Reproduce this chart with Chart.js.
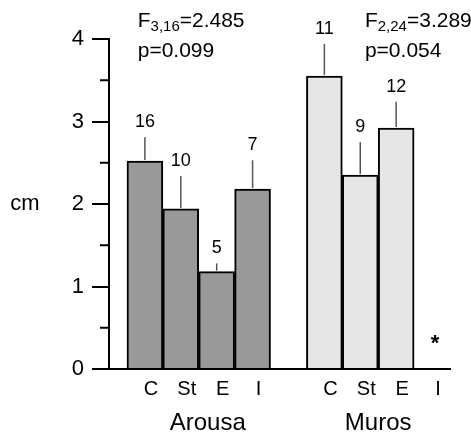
<!DOCTYPE html>
<html>
<head>
<meta charset="utf-8">
<script src="https://cdn.jsdelivr.net/npm/chart.js@4/dist/chart.umd.min.js"></script>
<style>
  body { margin: 0; background: #fff; }
  #wrap { width: 471px; height: 437px; position: relative; }
</style>
</head>
<body>
<div id="wrap"><canvas id="barChart"></canvas></div>
<script>
var categories = ['C', 'St', 'E', 'I'];
var sites = ['Arousa', 'Muros'];
var arousaMeans = [2.52, 1.94, 1.18, 2.18];
var arousaErr = [0.29, 0.40, 0.10, 0.35];
var arousaN = [16, 10, 5, 7];
var murosMeans = [3.55, 2.35, 2.92, null];
var murosErr = [0.39, 0.40, 0.32, null];
var murosN = [11, 9, 12, null];
var yTicks = [0, 1, 2, 3, 4];
var fDf = ['3,16', '2,24'];
var fValue = ['2.485', '3.289'];
var pValue = ['0.099', '0.054'];

var FONT = '"Liberation Sans", Arial, sans-serif';

// group g, category i -> position on x axis (one empty slot between groups)
function xPos(g, i) { return g * 5 + i; }

function points(g, means) {
    return means.map(function (m, i) { return { x: xPos(g, i), y: m }; });
}

var tickPositions = [];
var tickLabels = [];
sites.forEach(function (s, g) {
    categories.forEach(function (c, i) {
        tickPositions.push(xPos(g, i));
        tickLabels.push(c);
    });
});

var extras = {
    id: 'extras',
    afterDatasetsDraw: function (chart) {
        var ctx = chart.ctx;
        var xs = chart.scales.x, ys = chart.scales.y;
        var area = chart.chartArea;
        ctx.save();

        // error bars + sample sizes
        var groups = [[arousaMeans, arousaErr, arousaN], [murosMeans, murosErr, murosN]];
        groups.forEach(function (grp, g) {
            grp[0].forEach(function (m, i) {
                if (m === null) return;
                var px = xs.getPixelForValue(xPos(g, i));
                var top = ys.getPixelForValue(m + grp[1][i]);
                ctx.strokeStyle = '#555';
                ctx.lineWidth = 1.5;
                ctx.beginPath();
                ctx.moveTo(px, ys.getPixelForValue(m) - 1);
                ctx.lineTo(px, top);
                ctx.stroke();
                ctx.fillStyle = '#000';
                ctx.font = '18px ' + FONT;
                ctx.textAlign = 'center';
                ctx.textBaseline = 'middle';
                ctx.fillText(String(grp[2][i]), px, top - 15);
            });
        });

        // missing bar marker
        ctx.font = 'bold 22px ' + FONT;
        ctx.textAlign = 'center';
        ctx.textBaseline = 'alphabetic';
        ctx.fillText('*', xs.getPixelForValue(xPos(1, 3)) + 3, ys.getPixelForValue(0.23));

        // minor ticks
        ctx.strokeStyle = '#000';
        ctx.lineWidth = 2;
        for (var v = 0.5; v < 4; v += 1) {
            var py = ys.getPixelForValue(v);
            ctx.beginPath();
            ctx.moveTo(area.left - 9, py);
            ctx.lineTo(area.left, py);
            ctx.stroke();
        }

        // y title, horizontal
        ctx.font = '22px ' + FONT;
        ctx.textAlign = 'center';
        ctx.textBaseline = 'middle';
        ctx.fillText('cm', 25, ys.getPixelForValue(2));

        // site names
        ctx.font = '24px ' + FONT;
        ctx.fillText(sites[0], xs.getPixelForValue(1.75), 423);
        ctx.fillText(sites[1], xs.getPixelForValue(6.5), 423);

        // F statistics
        [-0.2, 6.13].forEach(function (xv, g) {
            var x0 = xs.getPixelForValue(xv);
            ctx.textAlign = 'left';
            ctx.textBaseline = 'alphabetic';
            ctx.font = '21px ' + FONT;
            ctx.fillText('F', x0, 27);
            var w = ctx.measureText('F').width;
            ctx.font = '15px ' + FONT;
            ctx.fillText(fDf[g], x0 + w, 31);
            w += ctx.measureText(fDf[g]).width;
            ctx.font = '21px ' + FONT;
            ctx.fillText('=' + fValue[g], x0 + w, 27);
            ctx.fillText('p=' + pValue[g], x0, 57);
        });
        ctx.restore();
    }
};

var ctx = document.getElementById('barChart').getContext('2d');
var myBarChart = new Chart(ctx, {
    type: 'bar',
    data: {
        datasets: [{
            label: sites[0],
            data: points(0, arousaMeans),
            backgroundColor: '#999999',
            borderColor: '#000',
            borderWidth: 2,
            grouped: false,
            barPercentage: 1,
            categoryPercentage: 1
        }, {
            label: sites[1],
            data: points(1, murosMeans),
            backgroundColor: '#e6e6e6',
            borderColor: '#000',
            borderWidth: 2,
            grouped: false,
            barPercentage: 1,
            categoryPercentage: 1
        }]
    },
    options: {
        responsive: true,
        maintainAspectRatio: false,
        animation: false,
        layout: { padding: { top: 39, right: 21, left: 0, bottom: 0 } },
        plugins: {
            legend: { display: false },
            tooltip: { enabled: false }
        },
        scales: {
            x: {
                type: 'linear',
                offset: false,
                min: -1,
                max: 8.5,
                afterBuildTicks: function (scale) {
                    scale.ticks = tickPositions.map(function (v) { return { value: v }; });
                },
                afterFit: function (scale) { scale.height = 68; },
                grid: { display: true, offset: false, drawOnChartArea: false, drawTicks: false },
                border: { display: true, color: '#000', width: 2 },
                ticks: {
                    autoSkip: false,
                    maxRotation: 0,
                    padding: 8,
                    labelOffset: 6,
                    color: '#000',
                    font: { size: 20, family: FONT },
                    callback: function (v) {
                        var k = tickPositions.indexOf(v);
                        return k < 0 ? '' : tickLabels[k];
                    }
                }
            },
            y: {
                min: yTicks[0],
                max: yTicks[yTicks.length - 1],
                afterBuildTicks: function (scale) {
                    scale.ticks = yTicks.map(function (v) { return { value: v }; });
                },
                afterFit: function (scale) { scale.width = 109; },
                grid: { drawOnChartArea: false, color: '#000', lineWidth: 2, tickLength: 17 },
                border: { display: true, color: '#000', width: 2 },
                ticks: {
                    padding: 8,
                    color: '#000',
                    font: { size: 22, family: FONT }
                }
            }
        }
    },
    plugins: [extras]
});
</script>
</body>
</html>
